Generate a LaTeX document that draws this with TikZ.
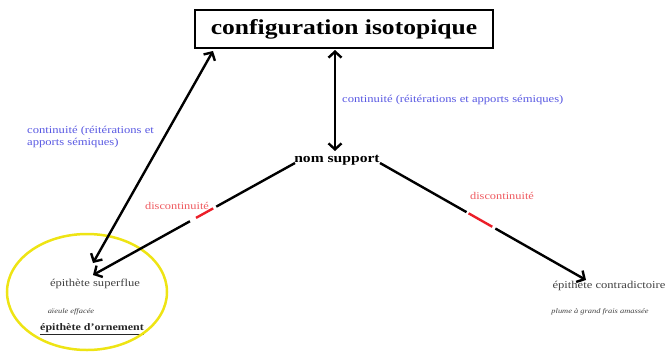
\documentclass[tikz,border=0pt]{standalone}
\usepackage{fontspec}
\setmainfont{Liberation Serif}[FakeStretch=1.2]
\usetikzlibrary{arrows.meta,calc}
\definecolor{contblue}{RGB}{88,88,226}
\definecolor{discred}{RGB}{238,90,96}
\definecolor{segred}{RGB}{235,30,40}
\definecolor{ellyellow}{RGB}{238,228,20}
\tikzset{
  conn/.style={line width=2.4pt, black},
  tips/.style={{Straight Barb[length=6pt,width=13pt]}-{Straight Barb[length=6pt,width=13pt]}},
  tipend/.style={-{Straight Barb[length=6pt,width=13pt]}},
  redseg/.style={line width=2.4pt, segred},
  bluelab/.style={text=contblue, font=\fontsize{10.5}{12.5}\selectfont, inner sep=0pt},
  redlab/.style={text=discred, font=\fontsize{10.3}{12}\selectfont, inner sep=0pt},
  term/.style={text=black!75, font=\fontsize{10.5}{12}\selectfont, inner sep=0pt},
  example/.style={text=black!75, font=\itshape\fontsize{7}{8}\selectfont, inner sep=0pt}
}
\begin{document}
\begin{tikzpicture}[x=1pt,y=-1pt]
\useasboundingbox (0,0) rectangle (666,351);
\node[draw, line width=2.5pt, minimum width=298pt, minimum height=38pt, inner sep=0pt,
      font=\bfseries\fontsize{21.3}{24}\selectfont] (box) at (344,29) {configuration isotopique};
\node[font=\bfseries\fontsize{13}{15}\selectfont, inner sep=1pt] (nom) at (337,160) {nom support};
\node[term] (sup) at (95,284) {épithète superflue};
\node[term] (contra) at (609,286) {épithète contradictoire};
\node[example] (ex1) at (71,312) {aïeule effacée};
\node[term, font=\bfseries\fontsize{10}{12}\selectfont, text=black!85] (orn) at (92,329) {\underline{épithète d'ornement}};
\node[example] (ex2) at (600,312) {plume à grand frais amassée};
\draw[ellyellow, line width=2.5pt] (87,292) ellipse [x radius=80, y radius=58];

\coordinate (a1) at (213,51);
\coordinate (a2) at (93,263);
\coordinate (ns) at (295,163);
\coordinate (sp) at (93,275);
\coordinate (nr) at (380,163);
\coordinate (ct) at (586,280);

\draw[conn, tips] (a1) -- (a2);
\draw[conn, tips] (335,50) -- (335,151);

\draw[conn] (ns) -- ($(ns)!0.39!(sp)$);
\draw[redseg] ($(ns)!0.405!(sp)$) -- ($(ns)!0.49!(sp)$);
\draw[conn, tipend] ($(ns)!0.52!(sp)$) -- (sp);

\draw[conn] (nr) -- ($(nr)!0.42!(ct)$);
\draw[redseg] ($(nr)!0.43!(ct)$) -- ($(nr)!0.545!(ct)$);
\draw[conn, tipend] ($(nr)!0.56!(ct)$) -- (ct);

\node[bluelab, anchor=west] (lab1) at (342,100) {continuité (réitérations et apports sémiques)};
\node[bluelab, anchor=west, align=left] (lab2) at (27,137) {continuité (réitérations et\\apports sémiques)};
\node[redlab] (d1) at (177,206) {discontinuité};
\node[redlab] (d2) at (502,196) {discontinuité};
\end{tikzpicture}
\end{document}
